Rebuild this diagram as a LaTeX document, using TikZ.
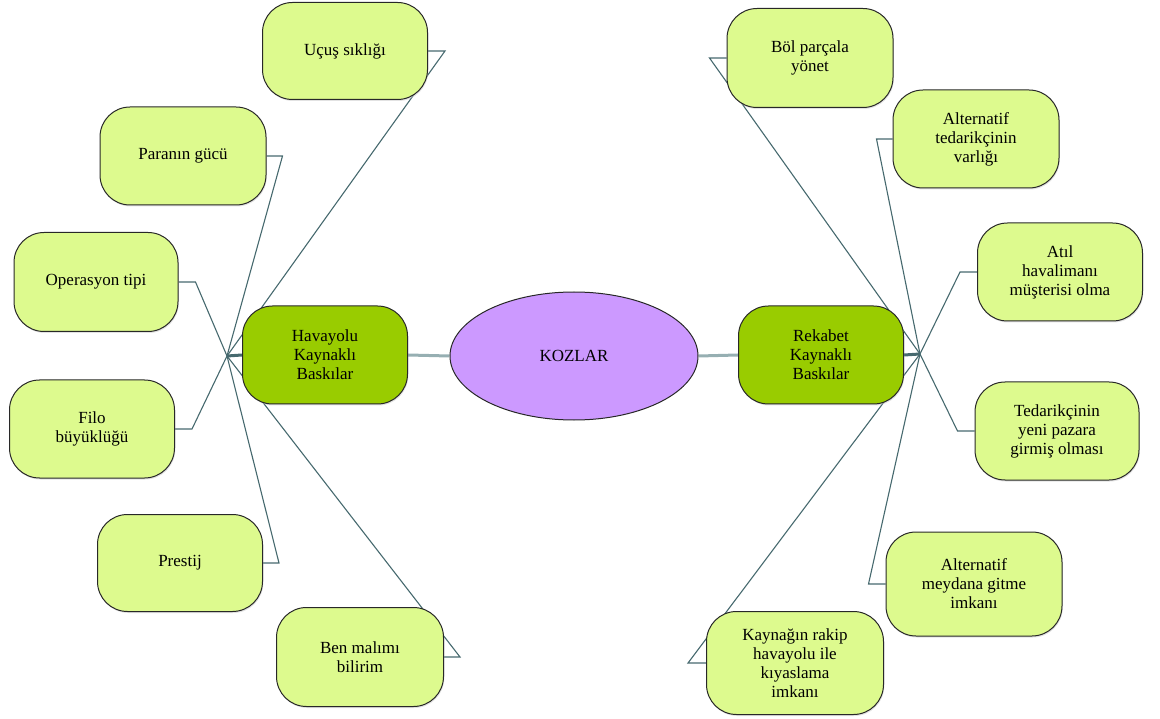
\documentclass[tikz,border=0pt]{standalone}
\usepackage{fontspec}
\setmainfont{Liberation Serif}
\usetikzlibrary{shapes.geometric,shadows}

\pgfdeclarelayer{background}
\pgfsetlayers{background,main}

\definecolor{leaffill}{RGB}{221,250,142}
\definecolor{hubfill}{RGB}{153,204,0}
\definecolor{corefill}{RGB}{204,153,255}
\definecolor{linkdark}{RGB}{70,105,110}
\definecolor{linklight}{RGB}{150,175,178}
\definecolor{edge}{RGB}{40,40,40}

\tikzset{
  leaf/.style={rectangle, rounded corners=30pt, draw=edge, line width=1pt,
    fill=leaffill, inner sep=0pt, align=center,
    drop shadow={shadow xshift=0.8pt, shadow yshift=-1.5pt, fill=gray!45},
    font=\fontsize{17}{19}\selectfont},
  hubbox/.style={leaf, fill=hubfill, minimum width=165pt, minimum height=98pt},
  core/.style={ellipse, draw=edge, line width=1pt, fill=corefill,
    minimum width=248pt, minimum height=128pt, inner sep=0pt,
    font=\fontsize{17}{19}\selectfont},
  spoke/.style={draw=linkdark, line width=1.1pt},
  stub/.style={draw=linkdark, line width=3pt},
  bridge/.style={draw=linklight, line width=3pt},
}

\begin{document}
\begin{tikzpicture}[x=1pt,y=-1pt]
  \useasboundingbox (0,0) rectangle (1160,719);

  % centre and the two pressure groups
  \node[core] (koz) at (574,356) {KOZLAR};
  \node[hubbox] (hav) at (325,355) {Havayolu\\Kaynaklı\\Baskılar};
  \node[hubbox] (rek) at (821,355) {Rekabet\\Kaynaklı\\Baskılar};

  % fan-out points
  \coordinate (lh) at (227,356);
  \coordinate (rh) at (920,354);

  % left leaves
  \node[leaf, minimum width=165pt, minimum height=97pt] (uc) at (345,51) {Uçuş sıklığı};
  \node[leaf, minimum width=166pt, minimum height=98pt] (pg) at (183,156) {Paranın gücü};
  \node[leaf, minimum width=164pt, minimum height=99pt] (op) at (96,282) {Operasyon tipi};
  \node[leaf, minimum width=165pt, minimum height=98pt] (fb) at (92,429) {Filo\\büyüklüğü};
  \node[leaf, minimum width=165pt, minimum height=97pt] (pr) at (180,563) {Prestij};
  \node[leaf, minimum width=167pt, minimum height=99pt] (bm) at (360,657) {Ben malımı\\bilirim};

  % right leaves
  \node[leaf, minimum width=166pt, minimum height=99pt] (bp) at (810,58) {Böl parçala\\yönet};
  \node[leaf, minimum width=166pt, minimum height=98pt] (at) at (976,139) {Alternatif\\tedarikçinin\\varlığı};
  \node[leaf, minimum width=165pt, minimum height=98pt] (ah) at (1060,272) {Atıl\\havalimanı\\müşterisi olma};
  \node[leaf, minimum width=164pt, minimum height=98pt] (ty) at (1057,431) {Tedarikçinin\\yeni pazara\\girmiş olması};
  \node[leaf, minimum width=176pt, minimum height=104pt] (am) at (974,584) {Alternatif\\meydana gitme\\imkanı};
  \node[leaf, minimum width=177pt, minimum height=103pt] (kr) at (795,663) {Kaynağın rakip\\havayolu ile\\kıyaslama\\imkanı};

  % all connectors sit behind the boxes
  \begin{pgfonlayer}{background}
    % links between centre and groups
    \draw[bridge] (hav.east) -- (koz.west);
    \draw[bridge] (koz.east) -- (rek.west);

    % stubs from groups to fan-out points
    \draw[stub] (hav.west) -- (lh);
    \draw[stub] (rek.east) -- (rh);

    % left elbow connectors
    \draw[spoke] (uc.east) -- ++(17,0) -- (lh);
    \draw[spoke] (pg.east) -- ++(16,0) -- (lh);
    \draw[spoke] (op.east) -- ++(17,0) -- (lh);
    \draw[spoke] (fb.east) -- ++(17,0) -- (lh);
    \draw[spoke] (pr.east) -- ++(16,0) -- (lh);
    \draw[spoke] (bm.east) -- ++(16,0) -- (lh);

    % right elbow connectors
    \draw[spoke] (bp.west) -- ++(-17,0) -- (rh);
    \draw[spoke] (at.west) -- ++(-16,0) -- (rh);
    \draw[spoke] (ah.west) -- ++(-17,0) -- (rh);
    \draw[spoke] (ty.west) -- ++(-17,0) -- (rh);
    \draw[spoke] (am.west) -- ++(-17,0) -- (rh);
    \draw[spoke] (kr.west) -- ++(-18,0) -- (rh);
  \end{pgfonlayer}
\end{tikzpicture}
\end{document}
